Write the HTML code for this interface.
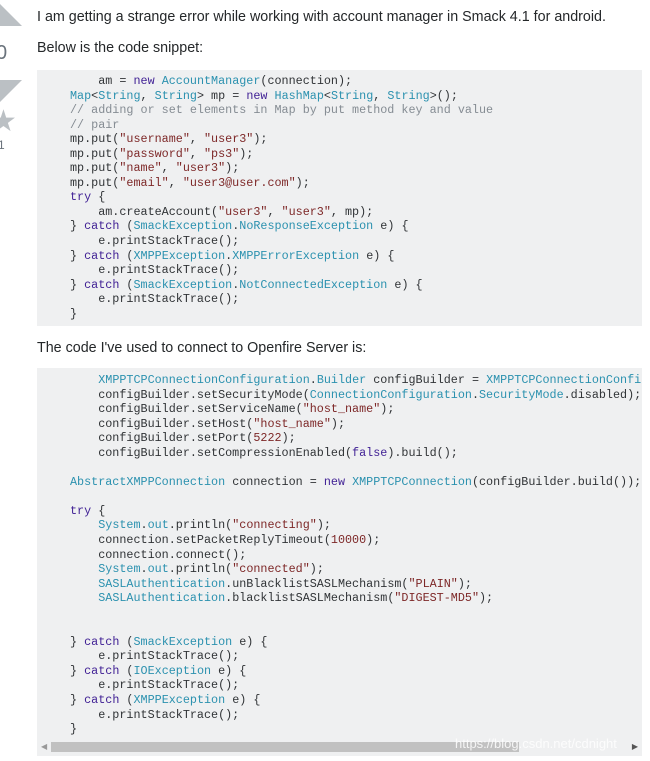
<!DOCTYPE html>
<html><head><meta charset="utf-8"><style>
body{margin:0;width:650px;height:761px;background:#fff;position:relative;overflow:hidden;font-family:"Liberation Sans",sans-serif;color:#242729}
p{position:absolute;left:37px;margin:0;font-size:14.3px;line-height:18px}
.code{position:absolute;left:37px;width:605px;background:#eff0f1;overflow:hidden}
pre{margin:0;font-family:"Liberation Mono",monospace;font-size:11.75px;line-height:14.55px;color:#303336;white-space:pre;position:absolute;left:33px}
.k{color:#3f1f94}.t{color:#2b91af}.s{color:#7d2727}.c{color:#858c93}
.tri{position:absolute;width:0;height:0;border-left:22px solid transparent;border-right:22px solid transparent}
</style></head><body>
<div class="tri" style="left:-22px;top:4px;border-bottom:22px solid #bbc0c4"></div>
<div style="position:absolute;left:-4px;top:42px;font-size:20px;color:#6a737c">0</div>
<div class="tri" style="left:-22px;top:80px;border-top:22px solid #bbc0c4"></div>
<div style="position:absolute;left:-10px;top:104px;font-size:30px;color:#bbc0c4">★</div>
<div style="position:absolute;left:-2px;top:138px;font-size:12px;color:#6a737c">1</div>

<p style="top:8px">I am getting a strange error while working with account manager in Smack 4.1 for android.</p>
<p style="top:39px">Below is the code snippet:</p>
<div class="code" style="top:70px;height:256px"><pre style="top:4px">    am = <span class="k">new</span> <span class="t">AccountManager</span>(connection);
<span class="t">Map</span>&lt;<span class="t">String</span>, <span class="t">String</span>&gt; mp = <span class="k">new</span> <span class="t">HashMap</span>&lt;<span class="t">String</span>, <span class="t">String</span>&gt;();
<span class="c">// adding or set elements in Map by put method key and value</span>
<span class="c">// pair</span>
mp.put(<span class="s">"username"</span>, <span class="s">"user3"</span>);
mp.put(<span class="s">"password"</span>, <span class="s">"ps3"</span>);
mp.put(<span class="s">"name"</span>, <span class="s">"user3"</span>);
mp.put(<span class="s">"email"</span>, <span class="s">"user3@user.com"</span>);
<span class="k">try</span> {
    am.createAccount(<span class="s">"user3"</span>, <span class="s">"user3"</span>, mp);
} <span class="k">catch</span> (<span class="t">SmackException</span>.<span class="t">NoResponseException</span> e) {
    e.printStackTrace();
} <span class="k">catch</span> (<span class="t">XMPPException</span>.<span class="t">XMPPErrorException</span> e) {
    e.printStackTrace();
} <span class="k">catch</span> (<span class="t">SmackException</span>.<span class="t">NotConnectedException</span> e) {
    e.printStackTrace();
}</pre></div>
<p style="top:339px">The code I've used to connect to Openfire Server is:</p>
<div class="code" style="top:368px;height:388px"><pre style="top:5px">    <span class="t">XMPPTCPConnectionConfiguration</span>.<span class="t">Builder</span> configBuilder = <span class="t">XMPPTCPConnectionConfiguration</span>.builder();
    configBuilder.setSecurityMode(<span class="t">ConnectionConfiguration</span>.<span class="t">SecurityMode</span>.disabled);
    configBuilder.setServiceName(<span class="s">"host_name"</span>);
    configBuilder.setHost(<span class="s">"host_name"</span>);
    configBuilder.setPort(<span class="s">5222</span>);
    configBuilder.setCompressionEnabled(<span class="k">false</span>).build();

<span class="t">AbstractXMPPConnection</span> connection = <span class="k">new</span> <span class="t">XMPPTCPConnection</span>(configBuilder.build());

<span class="k">try</span> {
    <span class="t">System</span>.<span class="t">out</span>.println(<span class="s">"connecting"</span>);
    connection.setPacketReplyTimeout(<span class="s">10000</span>);
    connection.connect();
    <span class="t">System</span>.<span class="t">out</span>.println(<span class="s">"connected"</span>);
    <span class="t">SASLAuthentication</span>.unBlacklistSASLMechanism(<span class="s">"PLAIN"</span>);
    <span class="t">SASLAuthentication</span>.blacklistSASLMechanism(<span class="s">"DIGEST-MD5"</span>);


} <span class="k">catch</span> (<span class="t">SmackException</span> e) {
    e.printStackTrace();
} <span class="k">catch</span> (<span class="t">IOException</span> e) {
    e.printStackTrace();
} <span class="k">catch</span> (<span class="t">XMPPException</span> e) {
    e.printStackTrace();
}</pre>
<div style="position:absolute;left:4px;top:374px;font-size:8px;color:#999">◀</div>
<div style="position:absolute;left:14px;top:374px;width:468px;height:10px;background:#c1c1c1"></div>
<div style="position:absolute;right:4px;top:374px;font-size:8px;color:#555">▶</div>
<div style="position:absolute;left:418px;top:368px;font-size:13px;color:#fff;opacity:.85">https://blog.csdn.net/cdnight</div>
</div>
</body></html>
